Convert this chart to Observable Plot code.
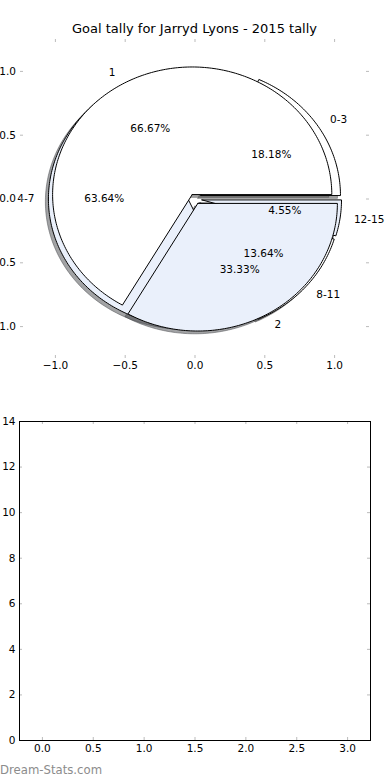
<!DOCTYPE html>
<html><head><meta charset="utf-8">
<script src="https://cdn.jsdelivr.net/npm/d3@7"></script>
<script src="https://cdn.jsdelivr.net/npm/@observablehq/plot@0.6"></script>
<style>
html,body{margin:0;padding:0;background:#fff;}
#wrap{position:relative;width:390px;height:780px;overflow:hidden;font-family:"DejaVu Sans",sans-serif;}
#wrap svg{position:absolute;left:0;}
.title{position:absolute;left:0;width:389px;text-align:center;top:21px;font-size:13px;line-height:16px;color:#000;z-index:2;white-space:nowrap}
.mark{position:absolute;left:0;top:762px;font-size:11.7px;color:#8c8c8c;line-height:16px;z-index:2;white-space:nowrap}
</style></head><body><div id="wrap"></div>
<script>
const title = "Goal tally for Jarryd Lyons - 2015 tally";
const outerLabels = ["0-3", "4-7", "8-11", "12-15"];
const outerValues = [4, 14, 3, 1];
const innerLabels = ["1", "2"];
const innerValues = [2, 1];
const pieTicks = [-1, -0.5, 0, 0.5, 1];
const barXTicks = [0, 0.5, 1, 1.5, 2, 2.5, 3];
const barYTicks = [0, 2, 4, 6, 8, 10, 12, 14];
const watermark = "Dream-Stats.com";

const WHITE = "#ffffff", BLUE = "#eaf0fb";
const palette = [WHITE, BLUE];
const SH = -0.0217; // shadow offset (data units)

function wedges(values, labels, explode) {
  const total = d3.sum(values);
  let a = 0;
  return values.map((v, i) => {
    const t1 = a, t2 = a + 360 * v / total; a = t2;
    const mid = (t1 + t2) / 2 * Math.PI / 180;
    const cx = explode * Math.cos(mid), cy = explode * Math.sin(mid);
    const pts = [{x: cx, y: cy}];
    const n = Math.max(2, Math.ceil(t2 - t1));
    for (let k = 0; k <= n; k++) {
      const t = (t1 + (t2 - t1) * k / n) * Math.PI / 180;
      pts.push({x: cx + Math.cos(t), y: cy + Math.sin(t)});
    }
    pts.push({x: cx, y: cy});
    const color = palette[i % palette.length];
    return {
      label: labels[i], pct: d3.format(".2f")(100 * v / total) + "%",
      lx: cx + 1.1 * Math.cos(mid), ly: cy + 1.1 * Math.sin(mid),
      px: cx + 0.6 * Math.cos(mid), py: cy + 0.6 * Math.sin(mid),
      pts, color,
      shadowPts: pts.map(p => ({x: p.x + SH, y: p.y + SH}))
    };
  });
}

const outer = wedges(outerValues, outerLabels, 0.05);
const inner = wedges(innerValues, innerLabels, 0.04);
const all = [...outer, ...inner];

function shadowColor(c) {
  const r = d3.rgb(c);
  return d3.rgb(r.r * 0.3, r.g * 0.3, r.b * 0.3).formatHex();
}

const FS = 10.5;
const pieMarks = [];
for (const w of all) {
  pieMarks.push(Plot.line(w.shadowPts, {x: "x", y: "y", fill: shadowColor(w.color), fillOpacity: 0.5, stroke: shadowColor(w.color), strokeOpacity: 0.5, strokeWidth: 1, curve: "linear"}));
}
for (const w of all) {
  pieMarks.push(Plot.line(w.pts, {x: "x", y: "y", fill: w.color, stroke: "black", strokeWidth: 1, strokeLinejoin: "miter", curve: "linear"}));
}
pieMarks.push(
  Plot.text(all.filter(w => w.lx >= 0), {x: "lx", y: "ly", text: "label", textAnchor: "start", lineAnchor: "middle", fontSize: FS, fill: "black"}),
  Plot.text(all.filter(w => w.lx < 0), {x: "lx", y: "ly", text: "label", textAnchor: "end", lineAnchor: "middle", fontSize: FS, fill: "black"}),
  Plot.text(all, {x: "px", y: "py", text: "pct", textAnchor: "middle", lineAnchor: "middle", fontSize: FS, fill: "black"}),
  // tick marks (inward, grey)
  Plot.ruleX(pieTicks, {x: d => d, insetBottom: 316, stroke: "#bbbbbb"}),
  Plot.ruleX(pieTicks, {x: d => d, insetTop: 316, stroke: "#bbbbbb"}),
  Plot.ruleY(pieTicks, {y: d => d, insetRight: 346, stroke: "#bbbbbb"}),
  Plot.ruleY(pieTicks, {y: d => d, insetLeft: 346, stroke: "#bbbbbb"}),
  Plot.text(pieTicks, {x: d => d, frameAnchor: "bottom", dy: 7, lineAnchor: "middle", text: d => d3.format(".1f")(d), fontSize: FS, fill: "black"}),
  Plot.text(pieTicks, {y: d => d, frameAnchor: "left", dx: -4.5, textAnchor: "end", lineAnchor: "middle", text: d => d3.format(".1f")(d), fontSize: FS, fill: "black"})
);

const pie = Plot.plot({
  width: 390, height: 390,
  marginLeft: 20, marginRight: 21, marginTop: 39, marginBottom: 32,
  x: {domain: [-1.25, 1.25], axis: null},
  y: {domain: [-1.25, 1.25], axis: null},
  style: {fontFamily: "DejaVu Sans, sans-serif", background: "transparent", overflow: "visible"},
  marks: pieMarks
});
pie.style.top = "0px";

const bars = Plot.plot({
  width: 390, height: 390,
  marginLeft: 19, marginRight: 20, marginTop: 31, marginBottom: 40,
  x: {domain: [-0.225, 3.225], axis: null},
  y: {domain: [0, 14], axis: null},
  style: {fontFamily: "DejaVu Sans, sans-serif", background: "transparent", overflow: "visible"},
  marks: [
    Plot.ruleX(barXTicks, {x: d => d, insetBottom: 316, stroke: "#bbbbbb"}),
    Plot.ruleX(barXTicks, {x: d => d, insetTop: 316, stroke: "#bbbbbb"}),
    Plot.ruleY(barYTicks, {y: d => d, insetRight: 348, stroke: "#bbbbbb"}),
    Plot.ruleY(barYTicks, {y: d => d, insetLeft: 348, stroke: "#bbbbbb"}),
    Plot.frame({stroke: "black", strokeWidth: 1}),
    Plot.text(barXTicks, {x: d => d, frameAnchor: "bottom", dy: 8, lineAnchor: "middle", text: d => d3.format(".1f")(d), fontSize: FS, fill: "black"}),
    Plot.text(barYTicks, {y: d => d, frameAnchor: "left", dx: -4, textAnchor: "end", lineAnchor: "middle", text: d => String(d), fontSize: FS, fill: "black"})
  ]
});
bars.style.top = "390px";

const wrap = document.getElementById("wrap");
wrap.appendChild(pie);
wrap.appendChild(bars);
const t = document.createElement("div"); t.className = "title"; t.textContent = title; wrap.appendChild(t);
const m = document.createElement("div"); m.className = "mark"; m.textContent = watermark; wrap.appendChild(m);
</script></body></html>
